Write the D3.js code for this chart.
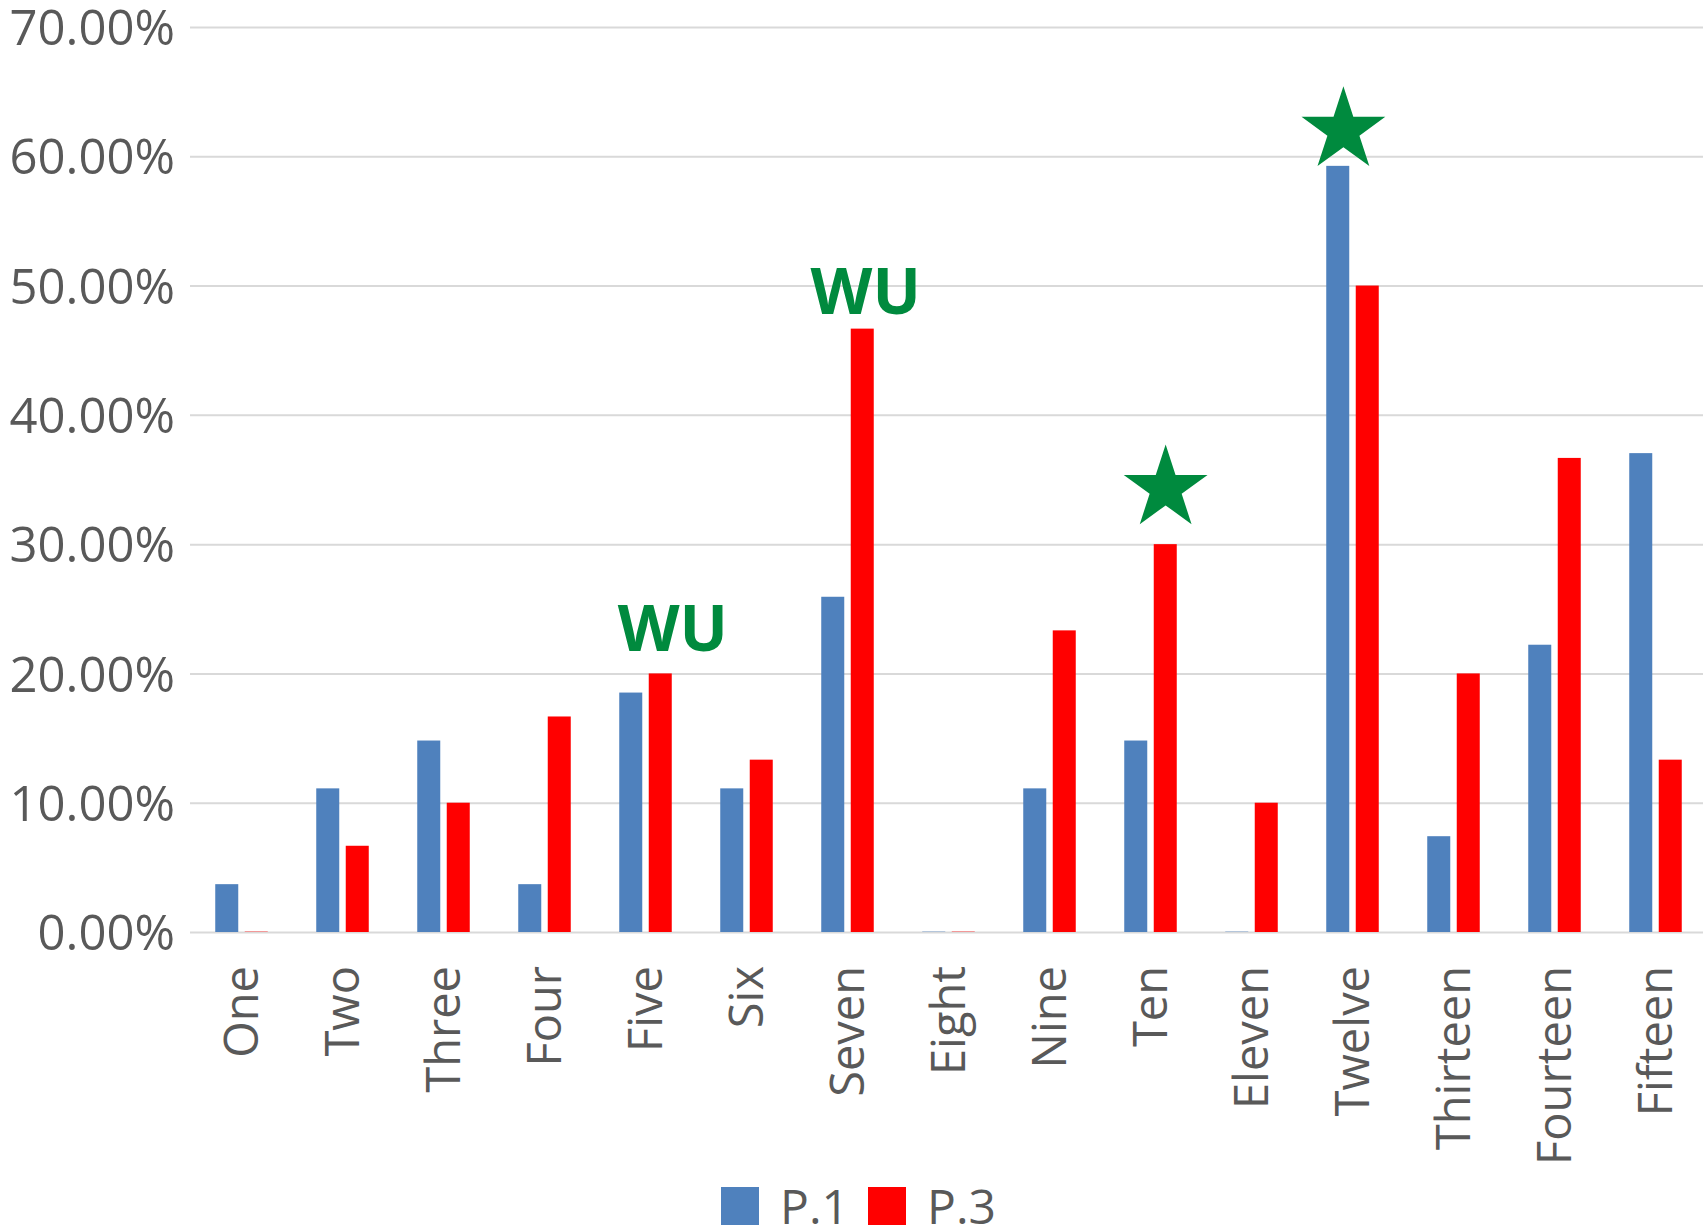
<!DOCTYPE html>
<html>
<head>
<meta charset="utf-8">
<script src="https://cdn.jsdelivr.net/npm/d3@7"></script>
<style>
  body { margin: 0; background: #fff; }
  text { font-family: "Open Sans", sans-serif; }
</style>
</head>
<body>
<div id="app"></div>
<script>
// data
let categories = ["One", "Two", "Three", "Four", "Five", "Six", "Seven", "Eight",
  "Nine", "Ten", "Eleven", "Twelve", "Thirteen", "Fourteen", "Fifteen"]
let series = ["P.1", "P.3"]
let p1 = [0.0370, 0.1111, 0.1481, 0.0370, 0.1852, 0.1111, 0.2593, 0,
  0.1111, 0.1481, 0, 0.5926, 0.0741, 0.2222, 0.3704]
let p3 = [0, 0.0667, 0.1000, 0.1667, 0.2000, 0.1333, 0.4667, 0,
  0.2333, 0.3000, 0.1000, 0.5000, 0.2000, 0.3667, 0.1333]
let yTicks = [0, 0.1, 0.2, 0.3, 0.4, 0.5, 0.6, 0.7]

// annotations: category, offset inside band, value level
let stars = [{cat: "Ten", at: 0.65, v: 0.343}, {cat: "Twelve", at: 0.41, v: 0.62}]
let wuLabels = [{cat: "Five", at: 0.77, v: 0.217}, {cat: "Seven", at: 0.68, v: 0.478}]

let colors = {"P.1": "#4f81bd", "P.3": "#ff0000"}
let green = "#008a3e"

let width = 1703
let height = 1231
let plotLeft = 190

let svg = d3.select("#app").append("svg")
    .attr("width", width)
    .attr("height", height)

svg.append("rect").attr("width", width).attr("height", height).attr("fill", "#fff")

let x = d3.scaleBand()
    .domain(categories)
    .range([191, 1706])

let x1 = d3.scaleBand()
    .domain(series)
    .range([0, x.bandwidth()])
    .paddingInner(0.22)
    .paddingOuter(0.822)

let y = d3.scaleLinear()
    .domain([0, 0.7])
    .range([932, 27])

// y axis + gridlines
let yAxis = svg.append("g")
    .attr("transform", `translate(${plotLeft},0)`)
    .call(d3.axisLeft(y)
        .tickValues(yTicks)
        .tickSize(-(width - plotLeft))
        .tickPadding(15)
        .tickFormat(d3.format(".2%")))

yAxis.select(".domain").remove()
yAxis.selectAll(".tick line")
    .attr("stroke", "#d9d9d9")
    .attr("stroke-width", 2)
yAxis.selectAll(".tick text")
    .attr("fill", "#595959")
    .attr("font-size", 49)
    .attr("dy", "0.36em")
    .style("font-family", "'Open Sans', sans-serif")

// bars
let rows = categories.map((c, i) => ({cat: c, values: [
  {key: "P.1", v: p1[i]}, {key: "P.3", v: p3[i]}]}))

let groups = svg.append("g")
    .selectAll("g")
    .data(rows)
    .enter().append("g")
    .attr("transform", d => `translate(${x(d.cat)},0)`)

groups.selectAll("rect")
    .data(d => d.values)
    .enter().append("rect")
    .attr("x", d => x1(d.key))
    .attr("width", x1.bandwidth())
    .attr("y", d => d.v > 0 ? y(d.v) : y(0) - 1)
    .attr("height", d => d.v > 0 ? y(0) - y(d.v) : 1)
    .attr("fill", d => colors[d.key])
    .attr("fill-opacity", d => d.v > 0 ? 1 : 0.35)

// x axis labels
let xAxis = svg.append("g")
    .attr("transform", `translate(0,${y(0)})`)
    .call(d3.axisBottom(x).tickSize(0).tickPadding(0))

xAxis.select(".domain").remove()
xAxis.selectAll(".tick text")
    .attr("fill", "#595959")
    .attr("font-size", 47)
    .attr("text-anchor", "end")
    .attr("transform", "translate(0,34) rotate(-90)")
    .attr("x", 0)
    .attr("y", 0)
    .attr("dy", "0.36em")
    .style("font-family", "'Open Sans', sans-serif")

// stars
let star = d3.symbol().type(d3.symbolStar).size(2180)
svg.append("g")
    .selectAll("path")
    .data(stars)
    .enter().append("path")
    .attr("d", star)
    .attr("fill", green)
    .attr("transform", d => `translate(${x(d.cat) + d.at * x.bandwidth()},${y(d.v)})`)

// WU labels
svg.append("g")
    .selectAll("text")
    .data(wuLabels)
    .enter().append("text")
    .attr("x", d => x(d.cat) + d.at * x.bandwidth())
    .attr("y", d => y(d.v))
    .attr("text-anchor", "middle")
    .attr("font-size", 64)
    .attr("font-weight", "bold")
    .attr("fill", green)
    .text("WU")

// legend
let legend = svg.append("g")
    .selectAll("g")
    .data(series)
    .enter().append("g")
    .attr("transform", (d, i) => `translate(${721 + i * 147},1187)`)

legend.append("rect")
    .attr("width", 38)
    .attr("height", 38)
    .attr("fill", d => colors[d])

legend.append("text")
    .attr("x", 59)
    .attr("y", 37)
    .attr("font-size", 48)
    .attr("fill", "#595959")
    .text(d => d)
</script>
</body>
</html>
